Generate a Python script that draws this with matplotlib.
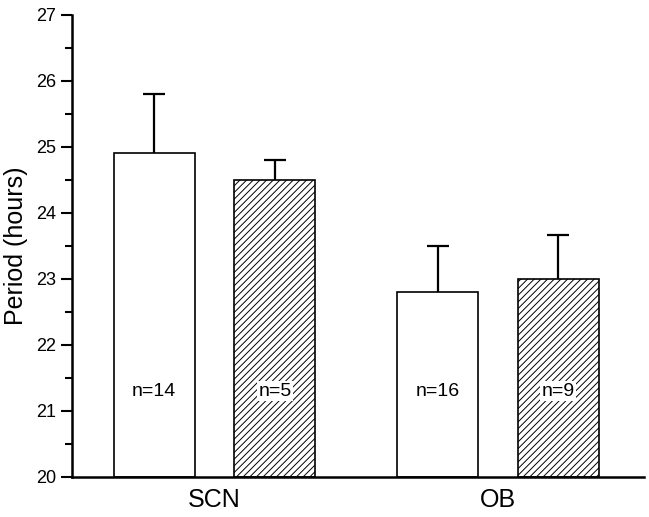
import matplotlib.pyplot as plt
from matplotlib.ticker import MultipleLocator

plt.rcParams["font.family"] = ["Liberation Sans", "DejaVu Sans"]
plt.rcParams["hatch.linewidth"] = 0.7

groups = ["SCN", "OB"]
open_means = [24.9, 22.8]
open_errs = [0.9, 0.7]
open_n = ["n=14", "n=16"]
hatched_means = [24.5, 23.0]
hatched_errs = [0.3, 0.66]
hatched_n = ["n=5", "n=9"]

fig = plt.figure(figsize=(6.49, 5.17), dpi=100)
ax = fig.add_axes([0.111, 0.0774, 0.881, 0.894])

centers = [1, 2]
off = 0.213
width = 0.286
base = 20
x_open = [c - off for c in centers]
x_hat = [c + off for c in centers]

ekw = dict(ecolor="black", elinewidth=1.6, capsize=8, capthick=1.6)
b1 = ax.bar(x_open, [m - base for m in open_means], width, bottom=base,
            color="white", edgecolor="black", linewidth=1.2,
            yerr=[[0, 0], open_errs], error_kw=ekw)
b2 = ax.bar(x_hat, [m - base for m in hatched_means], width, bottom=base,
            color="white", edgecolor="black", linewidth=1.2, hatch="/////",
            yerr=[[0, 0], hatched_errs], error_kw=ekw)
# only upper whiskers
for b in (b1, b2):
    caps = b.errorbar.lines[1]
    caps[0].set_visible(False)

for x, t in zip(x_open, open_n):
    ax.text(x, 21.3, t, ha="center", va="center", fontsize=14)
for x, t in zip(x_hat, hatched_n):
    ax.text(x, 21.3, t, ha="center", va="center", fontsize=14,
            bbox=dict(facecolor="white", edgecolor="none", pad=1))

ax.set_xlim(0.497, 2.515)
ax.set_ylim(20, 27)
ax.set_xticks(centers)
ax.set_xticklabels(groups, fontsize=18)
ax.tick_params(axis="x", length=0, pad=8)
ax.yaxis.set_major_locator(MultipleLocator(1))
ax.yaxis.set_minor_locator(MultipleLocator(0.5))
ax.tick_params(axis="y", which="major", length=8, width=1.5, labelsize=13)
ax.tick_params(axis="y", which="minor", length=5, width=1.5)
ax.set_ylabel("Period (hours)", fontsize=18, labelpad=6)

for s in ["top", "right"]:
    ax.spines[s].set_visible(False)
for s in ["left", "bottom"]:
    ax.spines[s].set_linewidth(1.8)

fig.savefig("out.png", dpi=100)
